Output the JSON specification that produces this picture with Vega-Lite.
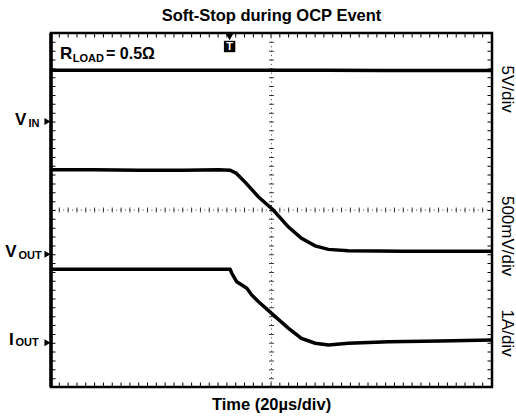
{
  "$schema": "https://vega.github.io/schema/vega-lite/v6.json",
  "width": 441,
  "height": 354,
  "autosize": {"type": "none"},
  "padding": {"left": 51, "top": 33, "right": 24, "bottom": 32},
  "background": "white",
  "config": {
    "view": {"stroke": "#000", "strokeWidth": 2.5},
    "font": "Liberation Sans"
  },
  "datasets": {
    "traces": [
      {"t": 0, "v": 7.16, "s": "VIN"}, {"t": 25, "v": 7.16, "s": "VIN"}, {"t": 50, "v": 7.16, "s": "VIN"},
      {"t": 75, "v": 7.16, "s": "VIN"}, {"t": 100, "v": 7.16, "s": "VIN"}, {"t": 125, "v": 7.16, "s": "VIN"},
      {"t": 150, "v": 7.15, "s": "VIN"}, {"t": 175, "v": 7.15, "s": "VIN"}, {"t": 200, "v": 7.15, "s": "VIN"},
      {"t": 0, "v": 4.91, "s": "VOUT"}, {"t": 20, "v": 4.91, "s": "VOUT"}, {"t": 40, "v": 4.9, "s": "VOUT"},
      {"t": 60, "v": 4.9, "s": "VOUT"}, {"t": 76, "v": 4.91, "s": "VOUT"}, {"t": 81.2, "v": 4.9, "s": "VOUT"},
      {"t": 84, "v": 4.83, "s": "VOUT"}, {"t": 88, "v": 4.63, "s": "VOUT"}, {"t": 94, "v": 4.3, "s": "VOUT"},
      {"t": 100.8, "v": 4.0, "s": "VOUT"}, {"t": 107.6, "v": 3.62, "s": "VOUT"}, {"t": 113.6, "v": 3.36, "s": "VOUT"},
      {"t": 119.8, "v": 3.19, "s": "VOUT"}, {"t": 125.8, "v": 3.11, "s": "VOUT"}, {"t": 134.8, "v": 3.08, "s": "VOUT"},
      {"t": 160, "v": 3.07, "s": "VOUT"}, {"t": 200, "v": 3.07, "s": "VOUT"},
      {"t": 0, "v": 2.66, "s": "IOUT"}, {"t": 40, "v": 2.66, "s": "IOUT"}, {"t": 81.2, "v": 2.66, "s": "IOUT"},
      {"t": 82, "v": 2.57, "s": "IOUT"}, {"t": 84.2, "v": 2.38, "s": "IOUT"}, {"t": 86.4, "v": 2.31, "s": "IOUT"},
      {"t": 88.8, "v": 2.23, "s": "IOUT"}, {"t": 91, "v": 2.08, "s": "IOUT"}, {"t": 94, "v": 1.93, "s": "IOUT"},
      {"t": 100.8, "v": 1.63, "s": "IOUT"}, {"t": 107.6, "v": 1.33, "s": "IOUT"}, {"t": 113.6, "v": 1.1, "s": "IOUT"},
      {"t": 119.8, "v": 0.99, "s": "IOUT"}, {"t": 125.8, "v": 0.95, "s": "IOUT"}, {"t": 134.8, "v": 0.99, "s": "IOUT"},
      {"t": 153.2, "v": 1.02, "s": "IOUT"}, {"t": 176.4, "v": 1.04, "s": "IOUT"}, {"t": 200, "v": 1.06, "s": "IOUT"}
    ],
    "vlines": [{"t": 100}],
    "hlines": [{"v": 4}],
    "vedges": [{"t": 0}, {"t": 200}],
    "hedges": [{"v": 0}, {"v": 8}],
    "leftEdge": [{"t": 0}],
    "trigger": [{"t": 81, "v": 8, "label": "T"}],
    "markers": [{"t": 0, "v": 6}, {"t": 0, "v": 3}, {"t": 0, "v": 1}],
    "bigLabels": [
      {"t": 4.08, "v": 7.41, "label": "R"},
      {"t": -16.3, "v": 5.92, "label": "V"},
      {"t": -20.8, "v": 2.94, "label": "V"},
      {"t": -19.05, "v": 0.95, "label": "I"}
    ],
    "subLabels": [
      {"t": 9.84, "v": 7.35, "label": "LOAD"},
      {"t": -10.2, "v": 5.88, "label": "IN"},
      {"t": -14.74, "v": 2.89, "label": "OUT"},
      {"t": -16.1, "v": 0.93, "label": "OUT"}
    ],
    "boldText": [
      {"t": 24.94, "v": 7.41, "label": "= 0.5Ω"}
    ],
    "headings": [
      {"t": 100, "v": 8.27, "label": "Soft-Stop during OCP Event"},
      {"t": 100, "v": -0.52, "label": "Time (20µs/div)"}
    ],
    "scales": [
      {"t": 207, "v": 6.73, "label": "5V/div"},
      {"t": 207, "v": 3.41, "label": "500mV/div"},
      {"t": 207, "v": 1.22, "label": "1A/div"}
    ]
  },
  "layer": [
    {
      "data": {"name": "traces"},
      "mark": {"type": "line", "color": "#000", "strokeWidth": 3.5, "clip": true},
      "encoding": {
        "x": {
          "field": "t", "type": "quantitative",
          "scale": {"domain": [0, 200], "nice": false, "zero": false},
          "axis": {
            "values": [20, 40, 60, 80, 120, 140, 160, 180],
            "grid": true, "gridColor": "#000", "gridWidth": 1, "gridDash": [1, 7.85], "gridOpacity": 0.85,
            "labels": false, "ticks": false, "domain": false, "title": null
          }
        },
        "y": {
          "field": "v", "type": "quantitative",
          "scale": {"domain": [0, 8], "nice": false, "zero": false},
          "axis": {
            "values": [1, 2, 3, 5, 6, 7],
            "grid": true, "gridColor": "#000", "gridWidth": 1, "gridDash": [1, 7.82], "gridOpacity": 0.85,
            "labels": false, "ticks": false, "domain": false, "title": null
          }
        },
        "detail": {"field": "s", "type": "nominal"}
      }
    },
    {
      "data": {"name": "vlines"},
      "mark": {"type": "rule", "color": "#000", "strokeWidth": 1, "strokeDash": [1, 3.41], "opacity": 0.75},
      "encoding": {"x": {"field": "t", "type": "quantitative", "axis": null}}
    },
    {
      "data": {"name": "hlines"},
      "mark": {"type": "rule", "color": "#000", "strokeWidth": 1, "strokeDash": [1, 3.41], "opacity": 0.75},
      "encoding": {"y": {"field": "v", "type": "quantitative", "axis": null}}
    },
    {
      "data": {"name": "vlines"},
      "mark": {"type": "rule", "color": "#000", "strokeWidth": 5, "strokeDash": [1, 7.85], "opacity": 0.75},
      "encoding": {"x": {"field": "t", "type": "quantitative", "axis": null}}
    },
    {
      "data": {"name": "hlines"},
      "mark": {"type": "rule", "color": "#000", "strokeWidth": 5, "strokeDash": [1, 7.82], "opacity": 0.75},
      "encoding": {"y": {"field": "v", "type": "quantitative", "axis": null}}
    },
    {
      "data": {"name": "vedges"},
      "mark": {"type": "rule", "color": "#000", "strokeWidth": 9, "strokeDash": [1, 7.85], "clip": true},
      "encoding": {"x": {"field": "t", "type": "quantitative", "axis": null}}
    },
    {
      "data": {"name": "hedges"},
      "mark": {"type": "rule", "color": "#000", "strokeWidth": 9, "strokeDash": [1, 7.82], "clip": true},
      "encoding": {"y": {"field": "v", "type": "quantitative", "axis": null}}
    },
    {
      "data": {"name": "leftEdge"},
      "mark": {"type": "rule", "color": "#000", "strokeWidth": 3.5},
      "encoding": {"x": {"field": "t", "type": "quantitative", "axis": null}}
    },
    {
      "data": {"name": "trigger"},
      "mark": {"type": "point", "shape": "triangle-down", "filled": true, "color": "#000", "opacity": 1, "size": 55, "yOffset": 4},
      "encoding": {
        "x": {"field": "t", "type": "quantitative", "axis": null},
        "y": {"field": "v", "type": "quantitative", "axis": null}
      }
    },
    {
      "data": {"name": "trigger"},
      "mark": {"type": "point", "shape": "square", "filled": true, "color": "#000", "opacity": 1, "size": 130, "yOffset": 13.5},
      "encoding": {
        "x": {"field": "t", "type": "quantitative", "axis": null},
        "y": {"field": "v", "type": "quantitative", "axis": null}
      }
    },
    {
      "data": {"name": "trigger"},
      "mark": {"type": "text", "color": "#fff", "fontSize": 11, "fontWeight": "bold", "baseline": "middle", "align": "center", "yOffset": 14},
      "encoding": {
        "x": {"field": "t", "type": "quantitative", "axis": null},
        "y": {"field": "v", "type": "quantitative", "axis": null},
        "text": {"field": "label"}
      }
    },
    {
      "data": {"name": "markers"},
      "mark": {"type": "point", "shape": "triangle-right", "filled": true, "color": "#000", "opacity": 1, "size": 50, "xOffset": -3.5},
      "encoding": {
        "x": {"field": "t", "type": "quantitative", "axis": null},
        "y": {"field": "v", "type": "quantitative", "axis": null}
      }
    },
    {
      "data": {"name": "bigLabels"},
      "mark": {"type": "text", "color": "#000", "fontSize": 17, "fontWeight": "bold", "align": "left", "baseline": "alphabetic"},
      "encoding": {
        "x": {"field": "t", "type": "quantitative", "axis": null},
        "y": {"field": "v", "type": "quantitative", "axis": null},
        "text": {"field": "label"}
      }
    },
    {
      "data": {"name": "subLabels"},
      "mark": {"type": "text", "color": "#000", "fontSize": 11, "fontWeight": "bold", "align": "left", "baseline": "alphabetic"},
      "encoding": {
        "x": {"field": "t", "type": "quantitative", "axis": null},
        "y": {"field": "v", "type": "quantitative", "axis": null},
        "text": {"field": "label"}
      }
    },
    {
      "data": {"name": "boldText"},
      "mark": {"type": "text", "color": "#000", "fontSize": 16, "fontWeight": "bold", "align": "left", "baseline": "alphabetic"},
      "encoding": {
        "x": {"field": "t", "type": "quantitative", "axis": null},
        "y": {"field": "v", "type": "quantitative", "axis": null},
        "text": {"field": "label"}
      }
    },
    {
      "data": {"name": "headings"},
      "mark": {"type": "text", "color": "#000", "fontSize": 16.5, "fontWeight": "bold", "align": "center", "baseline": "alphabetic"},
      "encoding": {
        "x": {"field": "t", "type": "quantitative", "axis": null},
        "y": {"field": "v", "type": "quantitative", "axis": null},
        "text": {"field": "label"}
      }
    },
    {
      "data": {"name": "scales"},
      "mark": {"type": "text", "color": "#000", "fontSize": 17, "angle": 90, "align": "center", "baseline": "middle"},
      "encoding": {
        "x": {"field": "t", "type": "quantitative", "axis": null},
        "y": {"field": "v", "type": "quantitative", "axis": null},
        "text": {"field": "label"}
      }
    }
  ]
}
